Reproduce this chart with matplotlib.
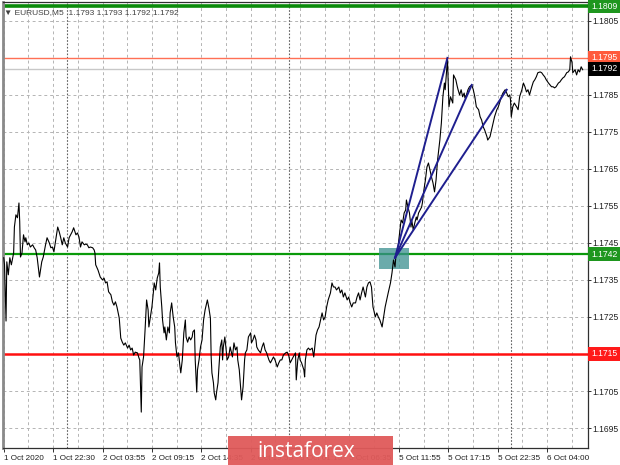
import matplotlib
matplotlib.use('Agg')
import matplotlib.pyplot as plt
import matplotlib.transforms as mtransforms
from matplotlib.patches import Rectangle

plt.rcParams['font.family'] = ['Liberation Sans', 'DejaVu Sans']

# ---------------- data (EURUSD M5, bar index vs price) ----------------
bars = [0, 1, 3, 4, 6, 8, 10, 13, 14, 16, 18, 20, 21, 22, 24, 26, 28, 29, 31, 33,
        35, 38, 40, 42, 44, 47, 50, 52, 55, 57, 60, 62, 64, 66, 68, 71, 73, 75, 77, 79,
        81, 84, 86, 88, 90, 92, 95, 97, 99, 101, 103, 106, 108, 110, 112, 114, 117, 119, 120, 121,
        124, 126, 127, 130, 132, 134, 136, 138, 141, 143, 145, 147, 149, 152, 154, 156, 158, 160, 163, 165,
        167, 169, 171, 173, 176, 178, 179, 181, 182, 184, 186, 188, 190, 191, 193, 195, 197, 198, 200, 202,
        204, 205, 206, 208, 209, 211, 212, 214, 216, 218, 219, 221, 223, 225, 226, 228, 230, 232, 233, 235,
        237, 239, 240, 242, 244, 246, 248, 249, 251, 252, 254, 255, 257, 259, 261, 263, 265, 268, 270, 272,
        273, 274, 276, 277, 279, 280, 282, 283, 285, 287, 288, 289, 291, 293, 294, 296, 298, 301, 303, 305,
        307, 308, 310, 311, 313, 315, 317, 318, 320, 322, 325, 326, 328, 330, 332, 333, 335, 338, 340, 342,
        344, 346, 349, 351, 353, 355, 357, 360, 362, 364, 366, 368, 371, 373, 375, 377, 379, 381, 384, 385,
        387, 389, 390, 392, 395, 396, 397, 399, 401, 403, 406, 408, 410, 411, 413, 415, 419, 421, 423, 425,
        427, 430, 432, 434, 436, 438, 441, 443, 445, 447, 449, 452, 454, 456, 458, 460, 463, 465, 467, 469,
        471, 473, 476, 478, 480, 482, 484, 486, 487, 489, 491, 493, 495, 498, 500, 502, 504, 506, 509, 511,
        513, 515, 516, 518, 520, 522, 523, 525, 527, 529, 530, 532, 534, 536, 537, 539, 541, 543, 544, 546,
        548, 550, 551, 553, 555, 557, 559, 561, 563, 565, 567, 569, 571, 573, 574, 576, 578, 580, 581, 583,
        584, 585, 586, 588, 591, 592, 595, 597, 598, 600, 602, 604, 606, 607, 609, 611, 613, 616, 618, 620,
        622, 625, 627, 629, 631, 633, 636, 637, 640, 642, 644, 646, 649, 651, 653, 655, 657, 660, 662, 664,
        666, 667, 668, 670, 672, 675, 677, 679, 682, 684, 686, 688, 690, 692, 695, 697, 699, 701, 703, 706,
        708, 710, 712, 714, 717, 719, 721, 723, 725, 727, 730, 732, 734, 736, 738, 741, 743, 745, 746, 748,
        749, 752, 754, 756, 758, 760, 762]

prices = [1.17410, 1.17391, 1.17239, 1.17399, 1.17364, 1.17410, 1.17391, 1.17423, 1.17493, 1.17526,
          1.17518, 1.17558, 1.17507, 1.17412, 1.17423, 1.17472, 1.17453, 1.17464, 1.17445, 1.17450,
          1.17439, 1.17445, 1.17437, 1.17431, 1.17410, 1.17358, 1.17399, 1.17412, 1.17445, 1.17464,
          1.17450, 1.17437, 1.17439, 1.17426, 1.17453, 1.17493, 1.17480, 1.17464, 1.17445, 1.17464,
          1.17450, 1.17439, 1.17464, 1.17472, 1.17480, 1.17491, 1.17472, 1.17477, 1.17466, 1.17439,
          1.17453, 1.17445, 1.17447, 1.17445, 1.17437, 1.17439, 1.17437, 1.17431, 1.17423, 1.17391,
          1.17377, 1.17364, 1.17358, 1.17350, 1.17355, 1.17342, 1.17345, 1.17318, 1.17310, 1.17291,
          1.17282, 1.17291, 1.17277, 1.17247, 1.17193, 1.17182, 1.17174, 1.17180, 1.17166, 1.17174,
          1.17161, 1.17166, 1.17147, 1.17155, 1.17153, 1.17139, 1.17134, 1.16993, 1.17115, 1.17142,
          1.17215, 1.17296, 1.17269, 1.17223, 1.17250, 1.17277, 1.17318, 1.17342, 1.17323, 1.17355,
          1.17369, 1.17396, 1.17331, 1.17277, 1.17242, 1.17207, 1.17223, 1.17188, 1.17223, 1.17207,
          1.17261, 1.17288, 1.17250, 1.17223, 1.17180, 1.17142, 1.17153, 1.17115, 1.17099, 1.17134,
          1.17207, 1.17242, 1.17196, 1.17182, 1.17196, 1.17188, 1.17196, 1.17210, 1.17215, 1.17134,
          1.17047, 1.17107, 1.17134, 1.17169, 1.17188, 1.17242, 1.17269, 1.17296, 1.17274, 1.17247,
          1.17142, 1.17099, 1.17072, 1.17045, 1.17026, 1.17045, 1.17072, 1.17107, 1.17169, 1.17188,
          1.17134, 1.17169, 1.17196, 1.17153, 1.17134, 1.17142, 1.17169, 1.17142, 1.17180, 1.17161,
          1.17169, 1.17134, 1.17107, 1.17080, 1.17026, 1.17061, 1.17134, 1.17153, 1.17161, 1.17196,
          1.17207, 1.17180, 1.17188, 1.17201, 1.17188, 1.17169, 1.17161, 1.17153, 1.17169, 1.17180,
          1.17161, 1.17153, 1.17134, 1.17126, 1.17134, 1.17142, 1.17134, 1.17115, 1.17126, 1.17134,
          1.17134, 1.17147, 1.17153, 1.17155, 1.17147, 1.17126, 1.17134, 1.17142, 1.17153, 1.17080,
          1.17134, 1.17153, 1.17134, 1.17126, 1.17107, 1.17088, 1.17134, 1.17161, 1.17166, 1.17161,
          1.17166, 1.17142, 1.17180, 1.17201, 1.17215, 1.17223, 1.17261, 1.17242, 1.17250, 1.17277,
          1.17296, 1.17315, 1.17342, 1.17331, 1.17331, 1.17323, 1.17331, 1.17315, 1.17323, 1.17304,
          1.17315, 1.17296, 1.17304, 1.17288, 1.17277, 1.17288, 1.17288, 1.17304, 1.17315, 1.17296,
          1.17315, 1.17331, 1.17304, 1.17331, 1.17342, 1.17345, 1.17331, 1.17277, 1.17269, 1.17250,
          1.17261, 1.17250, 1.17242, 1.17223, 1.17250, 1.17277, 1.17296, 1.17315, 1.17342, 1.17369,
          1.17404, 1.17385, 1.17412, 1.17423, 1.17458, 1.17493, 1.17512, 1.17504, 1.17531, 1.17539,
          1.17566, 1.17547, 1.17531, 1.17493, 1.17512, 1.17485, 1.17504, 1.17520, 1.17512, 1.17531,
          1.17539, 1.17547, 1.17558, 1.17593, 1.17620, 1.17655, 1.17666, 1.17647, 1.17628, 1.17612,
          1.17588, 1.17620, 1.17674, 1.17710, 1.17728, 1.17774, 1.17845, 1.17882, 1.17864, 1.17918,
          1.17950, 1.17882, 1.17818, 1.17845, 1.17828, 1.17904, 1.17891, 1.17872, 1.17864, 1.17850,
          1.17864, 1.17845, 1.17855, 1.17842, 1.17850, 1.17864, 1.17872, 1.17877, 1.17864, 1.17845,
          1.17818, 1.17810, 1.17791, 1.17782, 1.17764, 1.17755, 1.17737, 1.17728, 1.17737, 1.17755,
          1.17774, 1.17791, 1.17810, 1.17818, 1.17831, 1.17845, 1.17855, 1.17864, 1.17855, 1.17845,
          1.17850, 1.17837, 1.17791, 1.17818, 1.17828, 1.17818, 1.17810, 1.17845, 1.17864, 1.17882,
          1.17872, 1.17858, 1.17864, 1.17850, 1.17872, 1.17885, 1.17891, 1.17899, 1.17910, 1.17912,
          1.17910, 1.17904, 1.17899, 1.17891, 1.17882, 1.17877, 1.17872, 1.17872, 1.17869, 1.17872,
          1.17882, 1.17885, 1.17891, 1.17896, 1.17899, 1.17910, 1.17912, 1.17918, 1.17953, 1.17937,
          1.17910, 1.17918, 1.17904, 1.17918, 1.17912, 1.17926, 1.17918]

# fan of trend lines from the breakout point
fan_origin_bar = 515
fan_origin_price = 1.17410
fan_end_bars = [584, 616, 662]
fan_end_prices = [1.17950, 1.17877, 1.17864]

# breakout zone
zone_bars = [494, 534]
zone_prices = [1.17380, 1.17437]

# horizontal levels
level_values = [1.1809, 1.1795, 1.1792, 1.1742, 1.1715]
level_labels = ['1.1809', '1.1795', '1.1792', '1.1742', '1.1715']
level_line_colors = ['#0a8a0a', '#ff7055', '#c8c8c8', '#0a9a0a', '#ff1010']
level_box_colors = ['#1e961e', '#ff5a3c', '#000000', '#1e961e', '#ff1a1a']
level_widths = [2.6, 1.0, 1.0, 1.6, 1.8]

ytick_values = [1.1695, 1.1705, 1.1715, 1.1725, 1.1735, 1.1745,
                1.1755, 1.1765, 1.1775, 1.1785, 1.1795, 1.1805]
ytick_labels = ['1.1695', '1.1705', '1.1715', '1.1725', '1.1735', '1.1745',
                '1.1755', '1.1765', '1.1775', '1.1785', '1.1795', '1.1805']
xtick_bars = [0, 65, 130, 195, 260, 325, 390, 455, 520, 585, 650, 715]
xtick_labels = ['1 Oct 2020', '1 Oct 22:30', '2 Oct 03:55', '2 Oct 09:15', '2 Oct 14:35',
                '2 Oct 19:55', '5 Oct 01:15', '5 Oct 06:35', '5 Oct 11:55', '5 Oct 17:15',
                '5 Oct 22:35', '6 Oct 04:00']
xgrid_mid_bars = [32.5, 97.5, 162.5, 227.5, 292.5, 357.5, 422.5, 487.5, 552.5, 617.5, 682.5, 747.5]
day_separator_bars = [83, 376, 667]

title_text = '\u25bc EURUSD,M5  1.1793 1.1793 1.1792 1.1792'
watermark = 'instaforex'

# ---------------- figure ----------------
W, H = 620, 465
fig = plt.figure(figsize=(W / 100, H / 100), dpi=100)
fig.patch.set_facecolor('white')
ax = fig.add_axes([3 / W, (H - 448) / H, 585 / W, 446 / H])
ax.set_xlim(-1, 769)
ax.set_ylim(1.16896, 1.18101)

# grid
for v in ytick_values:
    ax.axhline(v, color='#b4b4b4', lw=0.7, ls=(0, (3, 3)), zorder=0)
for b in xtick_bars + xgrid_mid_bars:
    ax.axvline(b, color='#b4b4b4', lw=0.7, ls=(0, (3, 3)), zorder=0)
for b in day_separator_bars:
    ax.axvline(b, color='#606060', lw=0.8, ls=(0, (1.5, 1.5)), zorder=0.5)

# levels
for v, c, w in zip(level_values, level_line_colors, level_widths):
    ax.axhline(v, color=c, lw=w, zorder=2)

# price line
ax.plot(bars, prices, color='black', lw=0.8, zorder=3)

# zone
ax.add_patch(Rectangle((zone_bars[0], zone_prices[0]), zone_bars[1] - zone_bars[0],
                       zone_prices[1] - zone_prices[0], facecolor='#3a8f8f',
                       alpha=0.75, edgecolor='none', zorder=2.5))

# fan lines
for eb, ep in zip(fan_end_bars, fan_end_prices):
    ax.plot([fan_origin_bar, eb], [fan_origin_price, ep], color='#1f1f8f', lw=1.4, zorder=4)

# axes styling
for s in ['top', 'right', 'bottom']:
    ax.spines[s].set_color('#303030')
    ax.spines[s].set_linewidth(0.9)
ax.spines['left'].set_color('#8a8a8a')
ax.spines['left'].set_linewidth(2.0)

ax.yaxis.tick_right()
ax.set_yticks(ytick_values)
ax.set_yticklabels(ytick_labels, fontsize=6.2)
ax.tick_params(axis='y', direction='out', length=2.2, width=0.7, pad=0.8, colors='#303030',
               labelcolor='#202020')
ax.set_xticks(xtick_bars)
ax.set_xticklabels(xtick_labels, fontsize=5.9, ha='left')
ax.tick_params(axis='x', direction='out', length=3, width=0.7, pad=2, colors='#303030',
               labelcolor='#202020')

# price label boxes on the right
trans = mtransforms.blended_transform_factory(ax.transAxes, ax.transData)
for v, t, c in zip(level_values, level_labels, level_box_colors):
    ax.text(1.0 + 3 / 585, v, t, transform=trans, fontsize=6.2, color='white',
            va='center', ha='left', zorder=10, clip_on=False,
            bbox=dict(boxstyle='square,pad=0.3', facecolor=c, edgecolor='none'))

# title
ax.text(5 / 585, 1.18072, title_text, fontsize=6, color='#404040', va='center',
        ha='left', zorder=6)

# watermark banner
fig.patches.append(Rectangle((228 / W, 0), 165 / W, 29 / H, transform=fig.transFigure,
                             facecolor='#e05a5a', edgecolor='none', alpha=0.95, zorder=20))
fig.text(306 / W, 14 / H, watermark, fontsize=15, color='white', ha='center',
         va='center', zorder=21, family=['Open Sans', 'DejaVu Sans'])

fig.savefig('out.png', dpi=100)
